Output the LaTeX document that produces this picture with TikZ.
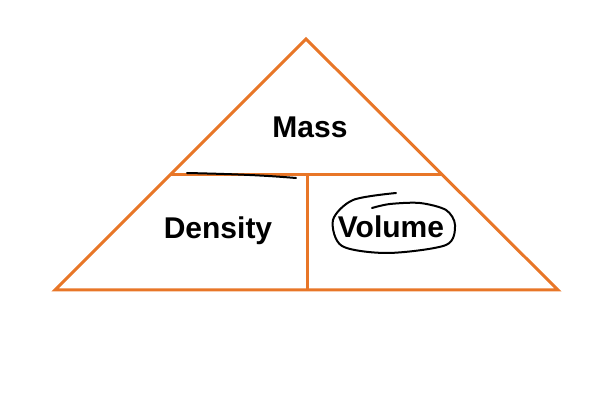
\documentclass[tikz,border=0pt]{standalone}
\usepackage{fontspec}
\setmainfont{Liberation Sans}
\usepackage{tikz}
\usepackage{xcolor}
\usetikzlibrary{positioning}
\definecolor{pyrorange}{RGB}{232,118,40}

\begin{document}
\begin{tikzpicture}[x=1pt, y=-1pt,
        edge/.style={draw=pyrorange, line width=3pt},
        word/.style={font=\bfseries\fontsize{30}{30}\selectfont, anchor=base, inner sep=0pt},
        pen/.style={draw=black, line width=2pt, line cap=round}]
        \useasboundingbox (0,0) rectangle (600,403);
        
        \coordinate (top) at (306,39);
        \coordinate (bl) at (55,290);
        \coordinate (br) at (558,290);
        \coordinate (ml) at (171,175);
        \coordinate (mr) at (442,175);
        \coordinate (mm) at (307,175);
        \coordinate (bm) at (307,290);
        
        \draw[edge, line join=miter] (top) -- (br) -- (bl) -- cycle;
        \draw[edge] (ml) to (mr)
            (mm) to (bm);
        
        \node[word] (mass) at (310,138) {Mass};
        \node[word] (density) at (218,239) {Density};
        \node[word] (volume) at (391,238) {Volume};
        
        \draw[pen] (187,173) .. controls (230,174) and (260,175) .. (296,178);
        \draw[pen] plot[smooth] coordinates {(396,193) (353,200) (333,220) (342,246) (388,253)
            (446,245) (455,225) (446,210) (420,203) (390,204) (372,208)};
    \end{tikzpicture}
\end{document}
